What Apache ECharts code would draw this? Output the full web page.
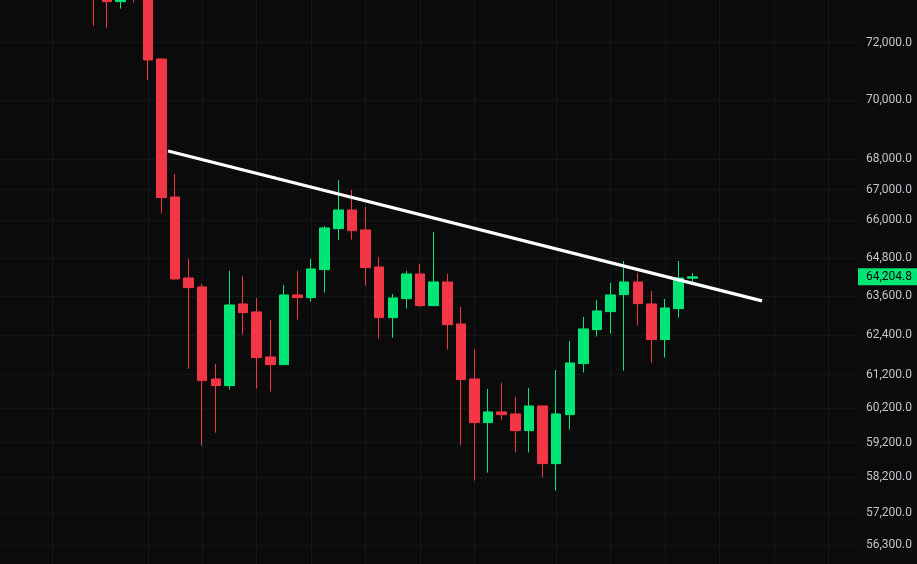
<!DOCTYPE html>
<html>
<head>
<meta charset="utf-8">
<script src="https://cdn.jsdelivr.net/npm/echarts@6/dist/echarts.min.js"></script>
<style>
  html, body { margin: 0; padding: 0; background: #0b0b0b; }
  #chart { width: 917px; height: 564px; }
</style>
</head>
<body>
<div id="chart"></div>
<script>
// candle values, one entry per bar (oldest first)
const opens  = [74100, 73900, 73459, 74200, 73650, 71428, 66763, 64169, 63887, 61074,
                60874, 63357, 63110, 61735, 61503, 63637, 63553, 64430, 65736, 66340,
                65694, 64515, 62934, 63522, 64295, 63305, 64043, 62740, 61074, 59782,
                60096, 60037, 59548, 60272, 58594, 60016, 61533, 62565, 63119, 63646,
                64043, 63357, 62260, 63212, 64160];
const closes = [73700, 73459, 73800, 73650, 71393, 66741, 64137, 63865, 61024, 60874,
                63326, 63088, 61714, 61503, 63637, 63553, 64452, 65758, 66340, 65671,
                64493, 62934, 63544, 64295, 63305, 64043, 62719, 61053, 59782, 60096,
                60016, 59548, 60272, 58594, 60037, 61554, 62587, 63141, 63637, 64043,
                63367, 62260, 63233, 64169, 64204.8];
const lows   = [72601, 72530, 73208, 73423, 70698, 66220, 64106, 61383, 59113, 59490,
                60755, 62413, 60785, 60696, 61503, 62872, 63429, 63709, 65383, 65383,
                63927, 62291, 62321, 63212, 63274, 63305, 61956, 59113, 58109, 58337,
                59870, 58911, 58911, 58194, 57825, 59577, 61263, 62351, 62443, 61323,
                62688, 61563, 61714, 62934, 63990];
const highs  = [74400, 74300, 74100, 74500, 73900, 71450, 67519, 64768, 63981, 61524,
                64389, 64232, 63544, 62863, 63949, 64389, 64768, 65823, 67321, 66992,
                66437, 64832, 63668, 64389, 64610, 65630, 64295, 63264, 61977, 60776,
                60955, 60539, 60806, 60272, 61344, 62220, 62956, 63481, 64012, 64705,
                64326, 63762, 63512, 64705, 64326];

// price scale labels (log scale)
const priceTicks = [72000, 70000, 68000, 67000, 66000, 64800, 63600, 62400,
                    61200, 60200, 59200, 58200, 57200, 56300];
// bar numbers where the vertical grid lines sit
const timeTicks = [-3, 4, 8, 12, 16, 20, 24, 28, 34, 38, 42, 46, 50, 54];

// trend line, from bar number / price
const trendX = [5.49, 49.12];
const trendY = [68283, 63451];

const lastPrice = closes[closes.length - 1];

const UP = '#00e676';
const DOWN = '#f23645';
const GRID = '#121815';

const fmt = v => v.toLocaleString('en-US', { minimumFractionDigits: 1, maximumFractionDigits: 1 });

const candles = opens.map((o, i) => [i, o, closes[i], lows[i], highs[i]]);

const chart = echarts.init(document.getElementById('chart'));
chart.setOption({
  backgroundColor: '#0b0b0b',
  animation: false,
  grid: { left: 0, right: 61, top: 0, bottom: 0 },
  xAxis: {
    type: 'value',
    min: -6.853,
    max: 56.023,
    show: false
  },
  yAxis: {
    type: 'log',
    logBase: 10,
    min: 55785,
    max: 73520,
    show: false
  },
  series: [
    {
      type: 'line',
      data: [],
      silent: true,
      markLine: {
        silent: true,
        symbol: 'none',
        z: 1,
        precision: 1,
        lineStyle: { color: GRID, type: 'solid', width: 1 },
        label: {
          position: 'end',
          distance: 10,
          color: '#c3c5cb',
          fontFamily: 'Roboto',
          fontSize: 12,
          formatter: p => fmt(p.value)
        },
        data: priceTicks.map(v => ({ yAxis: v }))
          .concat(timeTicks.map(t => ({ xAxis: t, label: { show: false } })))
      }
    },
    {
      type: 'candlestick',
      z: 2,
      barWidth: 10,
      clip: true,
      itemStyle: {
        color: UP,
        color0: DOWN,
        borderColor: UP,
        borderColor0: DOWN,
        borderWidth: 1
      },
      data: candles,
      markLine: {
        silent: true,
        symbol: 'none',
        precision: 1,
        z: 6,
        lineStyle: { color: 'transparent', width: 0 },
        label: {
          show: true,
          position: 'end',
          distance: 2,
          color: '#0b0b0b',
          backgroundColor: UP,
          fontFamily: 'Roboto',
          fontSize: 12,
          lineHeight: 12,
          padding: [3, 7, 2, 8],
          formatter: p => fmt(p.value)
        },
        data: [{ yAxis: lastPrice }]
      }
    },
    {
      type: 'line',
      z: 3,
      silent: true,
      symbol: 'none',
      lineStyle: { color: '#ffffff', width: 3.2 },
      data: trendX.map((x, i) => [x, trendY[i]])
    }
  ]
});
</script>
</body>
</html>
